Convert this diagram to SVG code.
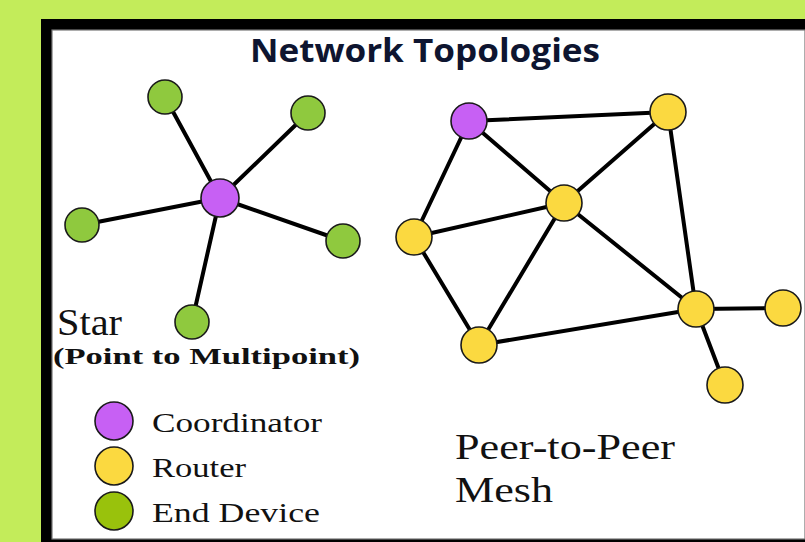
<svg xmlns="http://www.w3.org/2000/svg" width="805" height="542" viewBox="0 0 805 542">
<style>
.edge{stroke:#000;stroke-width:4;stroke-linecap:round;fill:none}
.node{stroke:#1a1a1a;stroke-width:1.6}
.coord{fill:#c760f4}
.router{fill:#fbd940}
.end{fill:#8fc93e}
.endl{fill:#99c20c}
.serif{font-family:"Liberation Serif","Times New Roman",serif;fill:#111}
</style>
<rect x="0" y="0" width="805" height="542" fill="#c3ec5a"/>
<rect x="41" y="19" width="764" height="523" fill="#000"/>
<rect x="52" y="30" width="753" height="509" fill="#fff" stroke="#777" stroke-width="1.2"/>
<text x="425" y="62" text-anchor="middle" font-family="'Open Sans','Liberation Sans',sans-serif" font-weight="bold" font-size="32" fill="#0e1530" textLength="350" lengthAdjust="spacingAndGlyphs">Network Topologies</text>
<g id="connectors">
<line class="edge" x1="220" y1="198" x2="165" y2="97"/>
<line class="edge" x1="220" y1="198" x2="308" y2="113"/>
<line class="edge" x1="220" y1="198" x2="82" y2="225"/>
<line class="edge" x1="220" y1="198" x2="343" y2="241"/>
<line class="edge" x1="220" y1="198" x2="192" y2="322"/>
<line class="edge" x1="469" y1="121" x2="668" y2="112"/>
<line class="edge" x1="469" y1="121" x2="564" y2="203"/>
<line class="edge" x1="469" y1="121" x2="414" y2="237"/>
<line class="edge" x1="668" y1="112" x2="564" y2="203"/>
<line class="edge" x1="668" y1="112" x2="696" y2="309"/>
<line class="edge" x1="564" y1="203" x2="414" y2="237"/>
<line class="edge" x1="564" y1="203" x2="479" y2="345"/>
<line class="edge" x1="564" y1="203" x2="696" y2="309"/>
<line class="edge" x1="414" y1="237" x2="479" y2="345"/>
<line class="edge" x1="479" y1="345" x2="696" y2="309"/>
<line class="edge" x1="696" y1="309" x2="783" y2="308"/>
<line class="edge" x1="696" y1="309" x2="725" y2="385"/>
</g>
<g id="star-hub"><circle class="node coord" cx="220" cy="198" r="19"/></g>
<g id="star-end1"><circle class="node end" cx="165" cy="97" r="17"/></g>
<g id="star-end2"><circle class="node end" cx="308" cy="113" r="17"/></g>
<g id="star-end3"><circle class="node end" cx="82" cy="225" r="17"/></g>
<g id="star-end4"><circle class="node end" cx="343" cy="241" r="17"/></g>
<g id="star-end5"><circle class="node end" cx="192" cy="322" r="17"/></g>
<g id="mesh-coord"><circle class="node coord" cx="469" cy="121" r="18"/></g>
<g id="mesh-r1"><circle class="node router" cx="668" cy="112" r="18"/></g>
<g id="mesh-r2"><circle class="node router" cx="564" cy="203" r="18"/></g>
<g id="mesh-r3"><circle class="node router" cx="414" cy="237" r="18"/></g>
<g id="mesh-r4"><circle class="node router" cx="696" cy="309" r="18"/></g>
<g id="mesh-r5"><circle class="node router" cx="783" cy="308" r="18"/></g>
<g id="mesh-r6"><circle class="node router" cx="479" cy="345" r="18"/></g>
<g id="mesh-r7"><circle class="node router" cx="725" cy="385" r="18"/></g>
<text class="serif" x="57" y="335" font-size="37" textLength="65" lengthAdjust="spacingAndGlyphs">Star</text>
<text class="serif" x="53" y="364" font-size="23" font-weight="bold" textLength="307" lengthAdjust="spacingAndGlyphs">(Point to Multipoint)</text>
<g id="legend-coord"><circle class="node coord" cx="114" cy="421" r="19"/><text class="serif" x="152" y="432" font-size="28" textLength="170" lengthAdjust="spacingAndGlyphs">Coordinator</text></g>
<g id="legend-router"><circle class="node router" cx="114" cy="466" r="19"/><text class="serif" x="152" y="477" font-size="28" textLength="94" lengthAdjust="spacingAndGlyphs">Router</text></g>
<g id="legend-end"><circle class="node endl" cx="114" cy="511" r="19"/><text class="serif" x="152" y="522" font-size="28" textLength="168" lengthAdjust="spacingAndGlyphs">End Device</text></g>
<text class="serif" x="455" y="459" font-size="36" textLength="220" lengthAdjust="spacingAndGlyphs">Peer-to-Peer</text>
<text class="serif" x="455" y="502" font-size="36" textLength="98" lengthAdjust="spacingAndGlyphs">Mesh</text>
</svg>
